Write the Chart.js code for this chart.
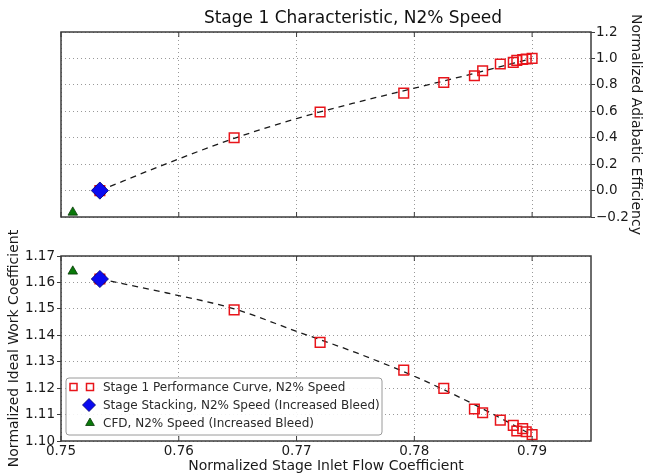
<!DOCTYPE html>
<html>
<head>
<meta charset="utf-8">
<script src="https://cdn.jsdelivr.net/npm/chart.js@4/dist/chart.umd.min.js"></script>
<style>
  html, body { margin: 0; padding: 0; background: #fff; }
  #wrap { position: relative; width: 645px; height: 475px; }
  #wrap canvas { position: absolute; left: 0; top: 0; }
</style>
</head>
<body>
<div id="wrap">
  <canvas id="effChart" width="645" height="475"></canvas>
  <canvas id="workChart" width="645" height="475"></canvas>
</div>
<script>
// Stage 1 performance curve, N2% speed (measured points)
const perfFlow = [0.7533, 0.7647, 0.7720, 0.7791, 0.7825, 0.7851, 0.7858, 0.7873, 0.7884, 0.7887, 0.7892, 0.7895, 0.7900];
const perfEff  = [0.000, 0.400, 0.595, 0.737, 0.818, 0.869, 0.907, 0.958, 0.970, 0.985, 0.992, 0.996, 1.000];
const perfWork = [1.1613, 1.1496, 1.1373, 1.1268, 1.1199, 1.1121, 1.1107, 1.1079, 1.1059, 1.1038, 1.1047, 1.1035, 1.1024];

// Fitted characteristic (dashed line)
const fitFlow = [0.7533, 0.7590, 0.7647, 0.7700, 0.7750, 0.7800, 0.7850, 0.7900];
const fitEff  = [0.000, 0.205, 0.395, 0.545, 0.665, 0.775, 0.885, 1.000];
const fitWork = [1.1613, 1.1560, 1.1500, 1.1415, 1.1335, 1.1245, 1.1140, 1.1023];

// Stage stacking, N2% speed (increased bleed)
const stackFlow = [0.7533];
const stackEff  = [0.000];
const stackWork = [1.1613];

// CFD, N2% speed (increased bleed)
const cfdFlow = [0.7510];
const cfdEff  = [-0.165];
const cfdWork = [1.1642];

// Axis ticks
const flowTicks = [0.75, 0.76, 0.77, 0.78, 0.79];
const effTicks  = [-0.2, 0.0, 0.2, 0.4, 0.6, 0.8, 1.0, 1.2];
const workTicks = [1.10, 1.11, 1.12, 1.13, 1.14, 1.15, 1.16, 1.17];

const FONT = '"DejaVu Sans", "Liberation Sans", sans-serif';
const pts = (xs, ys) => xs.map((x, i) => ({ x: x, y: ys[i] }));
const fixTicks = vals => scale => { scale.ticks = vals.map(v => ({ value: v })); };
const minus = s => s.replace('-', '\u2212');

// Frame around the plot area plus inward x ticks (top and bottom edges)
const framePlugin = {
  id: 'frame',
  afterDraw(chart) {
    const { ctx, chartArea: a, scales } = chart;
    ctx.save();
    ctx.strokeStyle = '#3c3c3c';
    ctx.lineWidth = 1;
    ctx.beginPath();
    flowTicks.forEach(v => {
      const px = scales.x.getPixelForValue(v);
      ctx.moveTo(px, a.bottom); ctx.lineTo(px, a.bottom - 5);
      ctx.moveTo(px, a.top); ctx.lineTo(px, a.top + 5);
    });
    ctx.stroke();
    ctx.lineWidth = 1.5;
    ctx.strokeRect(a.left, a.top, a.right - a.left, a.bottom - a.top);
    ctx.restore();
  }
};

// Rotated y-axis title drawn at a fixed x, centred on the plot area
const axisTitlePlugin = {
  id: 'axisTitle',
  afterDraw(chart, args, opts) {
    const { ctx, chartArea: a } = chart;
    ctx.save();
    ctx.translate(opts.x, (a.top + a.bottom) / 2);
    ctx.rotate(opts.rotation);
    ctx.font = '14px ' + FONT;
    ctx.fillStyle = '#1a1a1a';
    ctx.textAlign = 'center';
    ctx.textBaseline = 'middle';
    ctx.fillText(opts.text, 0, 0);
    ctx.restore();
  }
};

function drawSquare(ctx, x, y, s) {
  ctx.save();
  ctx.strokeStyle = '#e8141a';
  ctx.lineWidth = 1.5;
  ctx.strokeRect(x - s / 2, y - s / 2, s, s);
  ctx.restore();
}
function drawDiamond(ctx, x, y, r) {
  ctx.save();
  ctx.fillStyle = '#0a0af0';
  ctx.strokeStyle = '#00006a';
  ctx.lineWidth = 0.8;
  ctx.beginPath();
  ctx.moveTo(x, y - r); ctx.lineTo(x + r, y); ctx.lineTo(x, y + r); ctx.lineTo(x - r, y);
  ctx.closePath(); ctx.fill(); ctx.stroke();
  ctx.restore();
}
function drawTriangle(ctx, x, y, r) {
  ctx.save();
  ctx.fillStyle = '#0a7a0a';
  ctx.strokeStyle = '#063806';
  ctx.lineWidth = 0.8;
  ctx.beginPath();
  ctx.moveTo(x, y - r); ctx.lineTo(x + r * 0.87, y + r * 0.5); ctx.lineTo(x - r * 0.87, y + r * 0.5);
  ctx.closePath(); ctx.fill(); ctx.stroke();
  ctx.restore();
}

// Legend box inside the lower plot
const legendEntries = [
  { text: 'Stage 1 Performance Curve, N2% Speed', mark: 'square' },
  { text: 'Stage Stacking, N2% Speed (Increased Bleed)', mark: 'diamond' },
  { text: 'CFD, N2% Speed (Increased Bleed)', mark: 'triangle' }
];
const legendPlugin = {
  id: 'boxLegend',
  afterDraw(chart) {
    const { ctx } = chart;
    const bx = 66, by = 378, bw = 316, bh = 57;
    ctx.save();
    ctx.fillStyle = 'rgba(255,255,255,0.9)';
    ctx.strokeStyle = '#9a9a9a';
    ctx.lineWidth = 1;
    ctx.beginPath();
    if (ctx.roundRect) ctx.roundRect(bx, by, bw, bh, 3); else ctx.rect(bx, by, bw, bh);
    ctx.fill(); ctx.stroke();
    ctx.font = '12px ' + FONT;
    ctx.textBaseline = 'middle';
    ctx.textAlign = 'left';
    legendEntries.forEach((e, i) => {
      const y = 387 + i * 18;
      if (e.mark === 'square') { drawSquare(ctx, 73.5, y, 7); drawSquare(ctx, 90, y, 7); }
      if (e.mark === 'diamond') drawDiamond(ctx, 89, y, 6.5);
      if (e.mark === 'triangle') drawTriangle(ctx, 90, y, 5);
      ctx.fillStyle = '#2a2a2a';
      ctx.fillText(e.text, 103, y + 0.5);
    });
    ctx.restore();
  }
};

const gridColor = 'rgba(70,70,70,0.55)';
const tickFont = { family: FONT, size: 13.5 };

function datasets(fitY, perfY, stackY, cfdY) {
  return [
    {
      label: 'fit', data: pts(fitFlow, fitY), showLine: true, order: 4,
      borderColor: '#1a1a1a', borderWidth: 1.3, borderDash: [6, 5],
      pointRadius: 0, cubicInterpolationMode: 'monotone', clip: false
    },
    {
      label: 'Stage 1 Performance Curve, N2% Speed', data: pts(perfFlow, perfY), order: 3,
      pointStyle: 'rect', pointRadius: 6.8, borderColor: '#e8141a', backgroundColor: 'rgba(0,0,0,0)',
      pointBorderWidth: 1.5, clip: false
    },
    {
      label: 'Stage Stacking, N2% Speed (Increased Bleed)', data: pts(stackFlow, stackY), order: 1,
      pointStyle: 'rectRot', pointRadius: 8.6, backgroundColor: '#0a0af0', borderColor: '#00006a',
      pointBorderWidth: 0.8, clip: false
    },
    {
      label: 'CFD, N2% Speed (Increased Bleed)', data: pts(cfdFlow, cfdY), order: 2,
      pointStyle: 'triangle', pointRadius: 5.5, backgroundColor: '#0a7a0a', borderColor: '#063806',
      pointBorderWidth: 0.8, clip: false
    }
  ];
}

// Upper plot: adiabatic efficiency
new Chart(document.getElementById('effChart'), {
  type: 'scatter',
  data: { datasets: datasets(fitEff, perfEff, stackEff, cfdEff) },
  options: {
    responsive: false, animation: false, events: [],
    layout: { padding: { left: 61, right: 0, top: 0, bottom: 258 } },
    plugins: {
      legend: { display: false }, tooltip: { enabled: false },
      title: {
        display: true, text: 'Stage 1 Characteristic, N2% Speed', color: '#111',
        font: { family: FONT, size: 17, weight: 'normal', lineHeight: 1.2 }, padding: { top: 8, bottom: 3.6 }
      },
      axisTitle: { text: 'Normalized Adiabatic Efficiency', x: 636, rotation: Math.PI / 2 }
    },
    scales: {
      x: {
        type: 'linear', min: 0.75, max: 0.795,
        afterBuildTicks: fixTicks(flowTicks),
        afterFit: s => { s.height = 0; },
        ticks: { display: false },
        grid: { color: gridColor, drawTicks: false },
        border: { display: false, dash: [1, 3] }
      },
      y: {
        type: 'linear', position: 'right', min: -0.2, max: 1.2,
        afterBuildTicks: fixTicks(effTicks),
        afterFit: s => { s.width = 54; },
        ticks: { font: tickFont, color: '#1a1a1a', padding: 1, callback: v => minus(v.toFixed(1)) },
        grid: { color: gridColor, tickLength: 4, tickColor: '#3c3c3c', tickBorderDash: [], tickWidth: 1 },
        border: { display: false, dash: [1, 3] }
      }
    }
  },
  plugins: [framePlugin, axisTitlePlugin]
});

// Lower plot: ideal work coefficient
new Chart(document.getElementById('workChart'), {
  type: 'scatter',
  data: { datasets: datasets(fitWork, perfWork, stackWork, cfdWork) },
  options: {
    responsive: false, animation: false, events: [],
    layout: { padding: { left: 0, right: 54, top: 256, bottom: 0 } },
    plugins: {
      legend: { display: false }, tooltip: { enabled: false },
      axisTitle: { text: 'Normalized Ideal Work Coefficient', x: 14, rotation: -Math.PI / 2 }
    },
    scales: {
      x: {
        type: 'linear', min: 0.75, max: 0.795,
        afterBuildTicks: fixTicks(flowTicks),
        afterFit: s => { s.height = 34; },
        ticks: { font: tickFont, color: '#1a1a1a', padding: 2, maxRotation: 0, callback: v => v.toFixed(2) },
        title: {
          display: true, text: 'Normalized Stage Inlet Flow Coefficient', color: '#1a1a1a',
          font: { family: FONT, size: 14 }, padding: { top: 0, bottom: 0 }
        },
        grid: { color: gridColor, drawTicks: false },
        border: { display: false, dash: [1, 3] }
      },
      y: {
        type: 'linear', position: 'left', min: 1.10, max: 1.17,
        afterBuildTicks: fixTicks(workTicks),
        afterFit: s => { s.width = 61; },
        ticks: { font: tickFont, color: '#1a1a1a', padding: 2, callback: v => v.toFixed(2) },
        grid: { color: gridColor, tickLength: 4, tickColor: '#3c3c3c', tickBorderDash: [], tickWidth: 1 },
        border: { display: false, dash: [1, 3] }
      }
    }
  },
  plugins: [framePlugin, axisTitlePlugin, legendPlugin]
});
</script>
</body>
</html>
